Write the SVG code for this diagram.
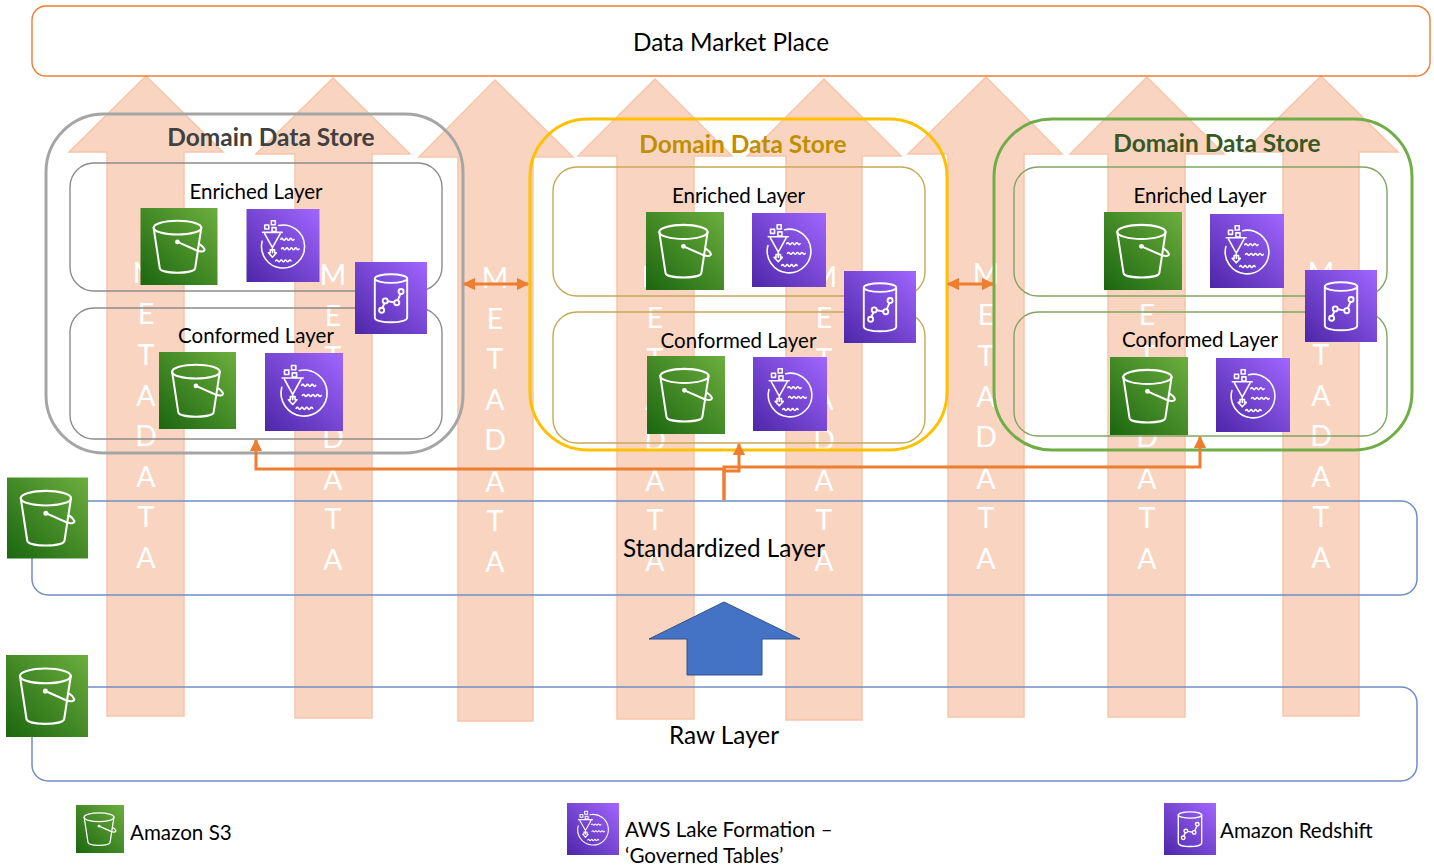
<svg xmlns="http://www.w3.org/2000/svg" xmlns:xlink="http://www.w3.org/1999/xlink" width="1434" height="865" viewBox="0 0 1434 865">
<style>
text{font-family:Lato,"Open Sans","Liberation Sans",sans-serif;fill:#000}
.lbl{font-size:20.5px;text-anchor:middle}
.lbl2{font-size:24.3px;text-anchor:middle}
.leg{font-size:20.6px}
.dom{font-size:24.5px;font-weight:700;text-anchor:middle}
.meta path{fill:#F9D5C1;stroke:#F7C5A9;stroke-width:1.5}
.meta text{font-size:28.5px;fill:#fff;text-anchor:middle}
.box{fill:none}
.ln{fill:none;stroke:#ED7D31;stroke-width:3}
.ic{fill:none;stroke:#fff;stroke-width:2.6;stroke-linecap:round;stroke-linejoin:round}
.ic2{fill:none;stroke:#fff;stroke-width:2.1;stroke-linecap:round;stroke-linejoin:round}
</style>
<defs>
<linearGradient id="gG" x1="0" y1="1" x2="1" y2="0"><stop offset="0" stop-color="#1B660F"/><stop offset="1" stop-color="#6CAE3E"/></linearGradient>
<linearGradient id="gP" x1="0" y1="1" x2="1" y2="0"><stop offset="0" stop-color="#4D27A8"/><stop offset="1" stop-color="#A166FF"/></linearGradient>
<marker id="ah" viewBox="0 0 10 10" refX="9" refY="5" markerWidth="4.2" markerHeight="4.2" orient="auto-start-reverse"><path d="M0 0L10 5L0 10Z" fill="#ED7D31"/></marker>
<symbol id="s3" viewBox="0 0 100 100">
<rect width="100" height="100" fill="url(#gG)"/>
<g class="ic"><ellipse cx="48" cy="25.5" rx="31" ry="9"/><path d="M17 25.500L25 78C26 86 70 86 71 78L79 25.500"/><circle cx="48" cy="44" r="1.800"/><path d="M48 44L74 55.500C80 57.500 84 56 83 53.500C82 51 80 49 77.500 47.500"/></g>
</symbol>
<symbol id="lf" viewBox="0 0 100 100">
<rect width="100" height="100" fill="url(#gP)"/>
<g class="ic2"><path d="M44 22.500A29.500 29.500 0 1 1 21.500 44"/><path d="M22 32H49M25 34L35.500 53L46 34M35.500 53V60M30 60H32.500V56H38.500V60H41L35.500 66Z"/><rect x="25" y="22" width="5.500" height="5.500"/><rect x="34" y="16" width="5.500" height="5.500"/><rect x="35" y="25.500" width="5.500" height="5.500"/><path d="M47 41.500q1.500 -2.500 3 0t3 0t3 0t3 0t3 0t3 0M48 54.500q1.500 -2.500 3 0t3 0t3 0t3 0t3 0t3 0t3 0t3 0M40 71q1.500 -2.500 3 0t3 0t3 0t3 0t3 0t3 0t3 0"/></g>
</symbol>
<symbol id="rs" viewBox="0 0 100 100">
<rect width="100" height="100" fill="url(#gP)"/>
<g class="ic"><ellipse cx="50" cy="23" rx="22.500" ry="6"/><path d="M27.500 23V77C27.500 86 72.500 86 72.500 77V23"/><circle cx="37" cy="67" r="3.500"/><circle cx="42" cy="54" r="3.500"/><circle cx="58" cy="56.500" r="3.500"/><circle cx="64" cy="41" r="3.500"/><path d="M38 63.500L41 57.500M45.500 54.500L54.500 56M59.500 53L63 44.500"/></g>
</symbol>
</defs>
<rect width="1434" height="865" fill="#fff"/>

<g id="metadata-arrows" class="meta">
<g id="meta-1"><path d="M107 716V152H69L146 76L223 152H184V716Z"/><text x="146" y="283">M</text><text x="146" y="324">E</text><text x="146" y="365">T</text><text x="146" y="406">A</text><text x="146" y="446">D</text><text x="146" y="487">A</text><text x="146" y="527">T</text><text x="146" y="568">A</text></g>
<g id="meta-2"><path d="M295 718V154H256L333 78L410 154H372V718Z"/><text x="333" y="285">M</text><text x="333" y="326">E</text><text x="333" y="367">T</text><text x="333" y="408">A</text><text x="333" y="448">D</text><text x="333" y="490">A</text><text x="333" y="529">T</text><text x="333" y="570">A</text></g>
<g id="meta-3"><path d="M458 721V157H419L495 80L573 157H533V721Z"/><text x="495" y="288">M</text><text x="495" y="329">E</text><text x="495" y="369">T</text><text x="495" y="410">A</text><text x="495" y="450">D</text><text x="495" y="492">A</text><text x="495" y="531">T</text><text x="495" y="572">A</text></g>
<g id="meta-4"><path d="M617 719V156H578L655 79L732 156H694V719Z"/><text x="655" y="287">M</text><text x="655" y="328">E</text><text x="655" y="369">T</text><text x="655" y="410">A</text><text x="655" y="450">D</text><text x="655" y="491">A</text><text x="655" y="530">T</text><text x="655" y="571">A</text></g>
<g id="meta-5"><path d="M786 720V156H747L824 79L901 156H862V720Z"/><text x="824" y="287">M</text><text x="824" y="328">E</text><text x="824" y="369">T</text><text x="824" y="410">A</text><text x="824" y="450">D</text><text x="824" y="491">A</text><text x="824" y="530">T</text><text x="824" y="571">A</text></g>
<g id="meta-6"><path d="M948 717V154H908L986 77L1062 154H1024V717Z"/><text x="986" y="284">M</text><text x="986" y="325">E</text><text x="986" y="366">T</text><text x="986" y="407">A</text><text x="986" y="447">D</text><text x="986" y="489">A</text><text x="986" y="528">T</text><text x="986" y="569">A</text></g>
<g id="meta-7"><path d="M1108 717V154H1070L1147 77L1224 154H1185V717Z"/><text x="1147" y="284">M</text><text x="1147" y="325">E</text><text x="1147" y="366">T</text><text x="1147" y="407">A</text><text x="1147" y="447">D</text><text x="1147" y="489">A</text><text x="1147" y="528">T</text><text x="1147" y="569">A</text></g>
<g id="meta-8"><path d="M1283 716V152H1244L1321 76L1398 152H1359V716Z"/><text x="1321" y="283">M</text><text x="1321" y="324">E</text><text x="1321" y="365">T</text><text x="1321" y="406">A</text><text x="1321" y="446">D</text><text x="1321" y="487">A</text><text x="1321" y="527">T</text><text x="1321" y="568">A</text></g>
</g>

<g id="data-market-place"><rect class="box" x="32" y="6" width="1398" height="70" rx="14" stroke="#ED7D31" stroke-width="1.400"/><text class="lbl2" x="731" y="50.500">Data Market Place</text></g>

<g id="standardized-layer"><rect class="box" x="32" y="501" width="1385" height="94" rx="16" stroke="#6F8DC6" stroke-width="1.500"/><text class="lbl2" x="724" y="557">Standardized Layer</text><use href="#s3" x="7" y="477" width="81" height="82"/></g>
<g id="raw-layer"><rect class="box" x="32" y="687" width="1385" height="94" rx="16" stroke="#6F8DC6" stroke-width="1.500"/><text class="lbl2" x="724" y="744">Raw Layer</text><use href="#s3" x="6" y="655" width="82" height="82"/></g>
<g id="flow-arrow"><path d="M724 602L800 639H762V675H687V639H649Z" fill="#4472C4" stroke="#2F528F" stroke-width="1"/></g>

<g id="domain-1">
<rect class="box" x="46" y="114" width="417" height="339" rx="58" stroke="#A5A5A5" stroke-width="3"/>
<text class="dom" x="271" y="146" style="fill:#404040">Domain Data Store</text>
<rect class="box" x="70" y="163" width="372" height="128" rx="24" stroke="#8C8C8C" stroke-width="1.400"/>
<rect class="box" x="70" y="308" width="372" height="131" rx="24" stroke="#8C8C8C" stroke-width="1.400"/>
<text class="lbl" x="256" y="198.500">Enriched Layer</text>
<text class="lbl" x="256" y="343">Conformed Layer</text>
<use href="#s3" x="140" y="208" width="78" height="77"/><use href="#lf" x="246" y="209" width="74" height="73"/>
<use href="#s3" x="159" y="352" width="77" height="77"/><use href="#lf" x="265" y="353" width="78" height="78"/>
<use href="#rs" x="355" y="262" width="72" height="72"/>
</g>
<g id="domain-2">
<rect class="box" x="530" y="119" width="417" height="331" rx="58" stroke="#FFC000" stroke-width="3"/>
<text class="dom" x="743" y="153" style="fill:#BF8F00">Domain Data Store</text>
<rect class="box" x="553" y="167" width="372" height="129" rx="24" stroke="#C9A855" stroke-width="1.400"/>
<rect class="box" x="553" y="312" width="372" height="131" rx="24" stroke="#C9A855" stroke-width="1.400"/>
<text class="lbl" x="738.500" y="203">Enriched Layer</text>
<text class="lbl" x="738.500" y="348">Conformed Layer</text>
<use href="#s3" x="646" y="212" width="78" height="78"/><use href="#lf" x="752" y="213" width="74" height="74"/>
<use href="#s3" x="647" y="356" width="78" height="78"/><use href="#lf" x="753" y="357" width="74" height="74"/>
<use href="#rs" x="844" y="271" width="72" height="72"/>
</g>
<g id="domain-3">
<rect class="box" x="994" y="119" width="418" height="331" rx="58" stroke="#70AD47" stroke-width="3"/>
<text class="dom" x="1217" y="152" style="fill:#385723">Domain Data Store</text>
<rect class="box" x="1014" y="167" width="373" height="129" rx="24" stroke="#7FA562" stroke-width="1.400"/>
<rect class="box" x="1014" y="312" width="373" height="124" rx="24" stroke="#7FA562" stroke-width="1.400"/>
<text class="lbl" x="1200" y="203">Enriched Layer</text>
<text class="lbl" x="1200" y="347">Conformed Layer</text>
<use href="#s3" x="1104" y="212" width="78" height="78"/><use href="#lf" x="1210" y="214" width="74" height="74"/>
<use href="#s3" x="1110" y="357" width="78" height="78"/><use href="#lf" x="1216" y="358" width="74" height="74"/>
<use href="#rs" x="1305" y="270" width="72" height="72"/>
</g>

<g id="connectors">
<path class="ln" d="M724 500V469H256V440" marker-end="url(#ah)"/>
<path class="ln" d="M724 500V467H1200V437" marker-end="url(#ah)"/>
<path class="ln" d="M724 471H739V444" marker-end="url(#ah)"/>
<path class="ln" d="M464 284H528" marker-start="url(#ah)" marker-end="url(#ah)"/>
<path class="ln" d="M948 284H993" marker-start="url(#ah)" marker-end="url(#ah)"/>
</g>

<g id="legend-s3"><use href="#s3" x="76" y="805" width="48" height="48"/><text class="leg" x="130" y="839.500">Amazon S3</text></g>
<g id="legend-lf"><use href="#lf" x="567" y="803" width="52" height="52"/><text class="leg" x="625" y="836.500">AWS Lake Formation –</text><text class="leg" x="625" y="862.500">‘Governed Tables’</text></g>
<g id="legend-rs"><use href="#rs" x="1164" y="803" width="52" height="52"/><text class="leg" x="1220" y="837.500">Amazon Redshift</text></g>
</svg>
